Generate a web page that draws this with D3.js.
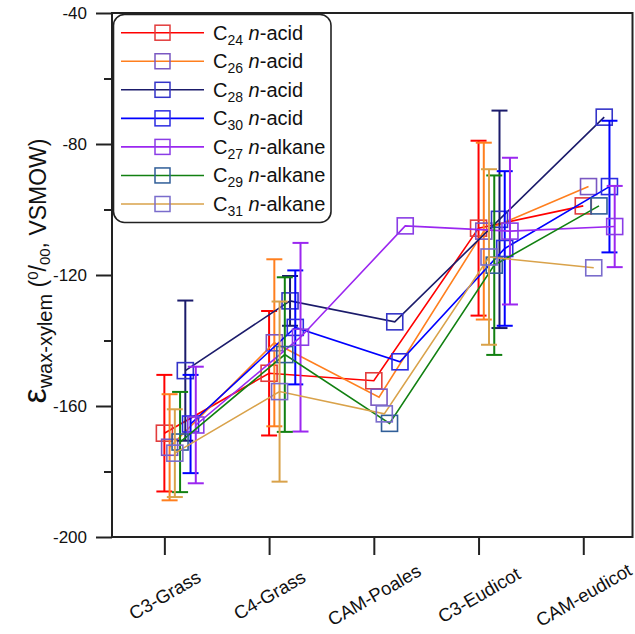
<!DOCTYPE html>
<html>
<head>
<meta charset="utf-8">
<script src="https://cdn.jsdelivr.net/npm/d3@7"></script>
<style>
body { margin: 0; background: #fff; }
text { font-family: "Liberation Sans", Arial, sans-serif; fill: #111; }
</style>
</head>
<body>
<div id="chart"></div>
<script>
var categories = ["C3-Grass", "C4-Grass", "CAM-Poales", "C3-Eudicot", "CAM-eudicot"];

// chain length and compound class for each series, legend order
var chainLengths = ["24", "26", "28", "30", "27", "29", "31"];
var compoundClass = ["acid", "acid", "acid", "acid", "alkane", "alkane", "alkane"];

// mean epsilon per category
var c24Acid = [-168.3, -150.0, -152.3, -105.7, -98.9];
var c26Acid = [-172.6, -140.7, -157.3, -106.6, -93.0];
var c28Acid = [-149.2, -127.9, -134.3, -103.0, -71.8];
var c30Acid = [-165.5, -136.0, -146.5, -111.9, -93.0];
var c27Alkane = [-165.8, -139.0, -105.0, -106.6, -105.2];
var c29Alkane = [-171.0, -144.3, -165.3, -117.0, -98.9];
var c31Alkane = [-174.4, -155.6, -162.4, -114.5, -117.8];

// error bar half-lengths (null = no bar)
var c24Err = [17.8, 19.0, null, 26.7, null];
var c26Err = [16.2, 25.5, null, 27.0, null];
var c28Err = [21.4, 7.6, null, 33.2, null];
var c30Err = [15.0, 17.4, null, 23.6, 20.1];
var c27Err = [17.8, 28.8, null, 22.4, 12.4];
var c29Err = [15.3, 23.6, null, 27.4, null];
var c31Err = [13.4, 27.5, null, 26.8, null];

var yTicks = [-200, -160, -120, -80, -40];
var yMinorTicks = [-180, -140, -100, -60];

var means = [c24Acid, c26Acid, c28Acid, c30Acid, c27Alkane, c29Alkane, c31Alkane];
var errs = [c24Err, c26Err, c28Err, c30Err, c27Err, c29Err, c31Err];

// styles
var lineColors = ["#ff0000", "#ff7f1e", "#1b1b6b", "#0000ff", "#9b27f0", "#118011", "#d9a24a"];
var markColors = ["#e23c3c", "#7a58c2", "#3434c8", "#2c2ce2", "#8a3de6", "#305e98", "#7a6ccc"];
var dodge = [0, 1, 4, 5, 6, 3, 2];   // horizontal offset rank in each group

var wt = 635, ht = 634;
var svg = d3.select("#chart").append("svg")
    .attr("width", wt)
    .attr("height", ht);

var x = d3.scaleLinear().domain([-0.5, 4.47]).range([112, 632.5]);
var y = d3.scaleLinear().domain([-200, -40]).range([537, 13]);

var series = means.map(function (m, k) {
    return m.map(function (v, i) {
        return { i: i, value: v, err: errs[k][i], xv: i + dodge[k] * 0.05 };
    });
});

var plot = svg.append("g");

var line = d3.line()
    .x(function (d) { return x(d.xv); })
    .y(function (d) { return y(d.value); });

series.forEach(function (s, k) {
    var g = plot.append("g");
    g.append("path")
        .datum(s)
        .attr("d", line)
        .attr("fill", "none")
        .attr("stroke", lineColors[k])
        .attr("stroke-width", 1.6);

    var eb = g.selectAll(".eb")
        .data(s.filter(function (d) { return d.err != null; }))
        .enter().append("g")
        .attr("stroke", lineColors[k])
        .attr("stroke-width", 2);
    eb.append("line")
        .attr("x1", function (d) { return x(d.xv); })
        .attr("x2", function (d) { return x(d.xv); })
        .attr("y1", function (d) { return y(d.value + d.err); })
        .attr("y2", function (d) { return y(d.value - d.err); });
    [1, -1].forEach(function (sg) {
        eb.append("line")
            .attr("x1", function (d) { return x(d.xv) - 8; })
            .attr("x2", function (d) { return x(d.xv) + 8; })
            .attr("y1", function (d) { return y(d.value + sg * d.err); })
            .attr("y2", function (d) { return y(d.value + sg * d.err); });
    });

    g.selectAll(".sq")
        .data(s)
        .enter().append("rect")
        .attr("x", function (d) { return x(d.xv) - 8; })
        .attr("y", function (d) { return y(d.value) - 8; })
        .attr("width", 16)
        .attr("height", 16)
        .attr("fill", "none")
        .attr("stroke", markColors[k])
        .attr("stroke-width", 1.6);
});

// frame
svg.append("rect")
    .attr("x", x.range()[0])
    .attr("y", y.range()[1])
    .attr("width", x.range()[1] - x.range()[0])
    .attr("height", y.range()[0] - y.range()[1])
    .attr("fill", "none")
    .attr("stroke", "#222")
    .attr("stroke-width", 2);

// y axis
var yAxis = svg.append("g")
    .attr("transform", "translate(" + x.range()[0] + ",0)")
    .call(d3.axisLeft(y).tickValues(yTicks).tickSize(16).tickPadding(9)
        .tickFormat(function (d) { return String(d); }));
yAxis.select(".domain").remove();
yAxis.selectAll("line").attr("stroke", "#222").attr("stroke-width", 2);
yAxis.selectAll("text").attr("font-size", 17).style("font-family", "'Liberation Sans', Arial, sans-serif").attr("fill", "#111");

var yMinor = svg.append("g")
    .attr("transform", "translate(" + x.range()[0] + ",0)")
    .call(d3.axisLeft(y).tickValues(yMinorTicks).tickSize(8).tickFormat(""));
yMinor.select(".domain").remove();
yMinor.selectAll("line").attr("stroke", "#222").attr("stroke-width", 2);

// x axis
var xAxis = svg.append("g")
    .attr("transform", "translate(0," + y.range()[0] + ")")
    .call(d3.axisBottom(x).tickValues(d3.range(categories.length)).tickSize(18)
        .tickFormat(function (i) { return categories[i]; }));
xAxis.select(".domain").remove();
xAxis.selectAll("line").attr("stroke", "#222").attr("stroke-width", 2);
xAxis.selectAll("text")
    .attr("y", 0)
    .attr("dy", "0.35em")
    .attr("text-anchor", "middle")
    .attr("transform", "translate(0,58) rotate(-30)")
    .attr("font-size", 18.5)
    .style("font-family", "'Liberation Sans', Arial, sans-serif")
    .attr("fill", "#111");

// y title
var yt = svg.append("text")
    .attr("transform", "translate(46,271) rotate(-90)")
    .attr("text-anchor", "middle");
yt.append("tspan").attr("font-size", 34).text("\u03b5");
yt.append("tspan").attr("font-size", 20).attr("dy", 6).text("wax-xylem");
yt.append("tspan").attr("font-size", 23).attr("dy", -6).text(" (");
yt.append("tspan").attr("font-size", 15).attr("dy", -8).text("0");
yt.append("tspan").attr("font-size", 23).attr("dy", 8).text("/");
yt.append("tspan").attr("font-size", 15).attr("dy", 4).text("00");
yt.append("tspan").attr("font-size", 23).attr("dy", -4).text(", VSMOW)");

// legend
var leg = svg.append("g");
leg.append("rect")
    .attr("x", 113.5).attr("y", 14.5)
    .attr("width", 217.5).attr("height", 208)
    .attr("rx", 11)
    .attr("fill", "#fff")
    .attr("stroke", "#222")
    .attr("stroke-width", 1.6);

chainLengths.forEach(function (c, k) {
    var ry = 32.7 + k * 28.55;
    var row = leg.append("g");
    row.append("line")
        .attr("x1", 121).attr("x2", 204)
        .attr("y1", ry).attr("y2", ry)
        .attr("stroke", lineColors[k]).attr("stroke-width", 1.6);
    row.append("rect")
        .attr("x", 162.5 - 7.5).attr("y", ry - 7.5)
        .attr("width", 15).attr("height", 15)
        .attr("fill", "none")
        .attr("stroke", markColors[k]).attr("stroke-width", 1.5);
    var t = row.append("text")
        .attr("x", 213).attr("y", ry + 7)
        .attr("font-size", 20);
    t.append("tspan").text("C");
    t.append("tspan").attr("font-size", 14).attr("dy", 5).text(c);
    t.append("tspan").attr("dy", -5).text(" ");
    t.append("tspan").attr("font-style", "italic").text("n");
    t.append("tspan").text("-" + compoundClass[k]);
});
</script>
</body>
</html>
